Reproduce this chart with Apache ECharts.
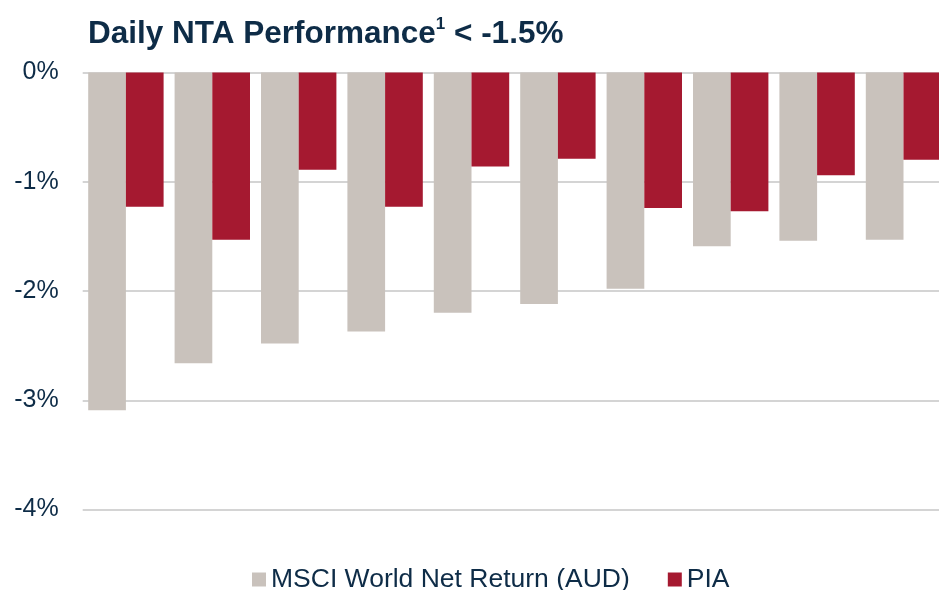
<!DOCTYPE html>
<html>
<head>
    <meta charset="utf-8" />
    <style>
        html, body {
        margin: 0;
        padding: 0;
        background-color: #fff;
        }
        #barChart {
        width: 939px;
        height: 590px;
        }
    </style>
    <script src="https://cdn.jsdelivr.net/npm/echarts@6/dist/echarts.min.js"></script>
</head>
<body>
    <div id="barChart"></div>

    <script type="text/javascript">
        // 10 days where NTA fell by more than 1.5%
        var days = ['1', '2', '3', '4', '5', '6', '7', '8', '9', '10'];
        var msciValues = [-3.09, -2.66, -2.48, -2.37, -2.20, -2.12, -1.98, -1.59, -1.54, -1.53];
        var piaValues = [-1.23, -1.53, -0.89, -1.23, -0.86, -0.79, -1.24, -1.27, -0.94, -0.80];
        var yTicks = [-4, -3, -2, -1, 0];

        var textColor = '#0e2c47';
        var fontName = '"Liberation Sans", Arial, sans-serif';

        var barOptions = {
            animation: false,
            title: {
                text: '{a|Daily NTA Performance}{sup|1}{a| < -1.5%}',
                left: 83,
                top: 11,
                textStyle: {
                    rich: {
                        a: {
                            fontFamily: fontName,
                            fontSize: 31.5,
                            fontWeight: 'bold',
                            color: textColor,
                            lineHeight: 36
                        },
                        sup: {
                            fontFamily: fontName,
                            fontSize: 17,
                            fontWeight: 'bold',
                            color: textColor,
                            verticalAlign: 'top',
                            lineHeight: 36,
                            padding: [0, 0, 10, 0]
                        }
                    }
                }
            },
            legend: {
                left: 252,
                top: 566,
                padding: 0,
                itemWidth: 14,
                itemHeight: 14,
                itemGap: 38,
                icon: 'rect',
                textStyle: {
                    fontFamily: fontName,
                    fontSize: 26.5,
                    color: textColor,
                    padding: [0, 0, 2, 0]
                },
                data: ['MSCI World Net Return (AUD)', 'PIA']
            },
            grid: {
                left: 82.7,
                top: 72.4,
                width: 864,
                height: 437.2,
                outerBoundsMode: 'none'
            },
            xAxis: {
                type: 'category',
                data: days,
                show: false
            },
            yAxis: {
                type: 'value',
                min: yTicks[0],
                max: yTicks[yTicks.length - 1],
                interval: 1,
                axisLine: { show: false },
                axisTick: { show: false },
                axisLabel: {
                    margin: 24,
                    fontFamily: fontName,
                    fontSize: 25,
                    color: textColor,
                    formatter: function (v) { return v + '%'; }
                },
                splitLine: {
                    show: true,
                    lineStyle: { color: '#c6c6c6', width: 1.5 }
                }
            },
            series: [
                {
                    name: 'MSCI World Net Return (AUD)',
                    type: 'bar',
                    data: msciValues,
                    barWidth: 37.7,
                    barGap: '0%',
                    itemStyle: { color: '#c9c2bc' }
                },
                {
                    name: 'PIA',
                    type: 'bar',
                    data: piaValues,
                    barWidth: 37.7,
                    barGap: '0%',
                    itemStyle: { color: '#a51930' }
                }
            ]
        };

        var myBarChart = echarts.init(document.getElementById('barChart'));
        myBarChart.setOption(barOptions);
    </script>
</body>
</html>
